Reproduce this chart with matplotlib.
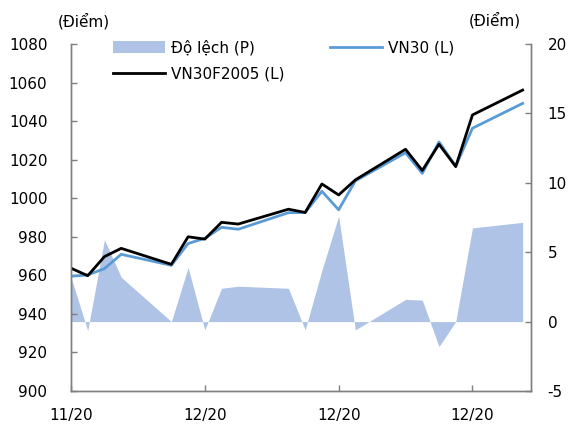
import matplotlib
matplotlib.use("Agg")
import matplotlib.pyplot as plt
import matplotlib.dates as mdates
import pandas as pd
import numpy as np

plt.rcParams['font.family'] = ['DejaVu Sans']
plt.rcParams['axes.unicode_minus'] = False

dates = ["2020-11-24", "2020-11-25", "2020-11-26", "2020-11-27",
         "2020-11-30", "2020-12-01", "2020-12-02", "2020-12-03", "2020-12-04",
         "2020-12-07", "2020-12-08", "2020-12-09", "2020-12-10", "2020-12-11",
         "2020-12-14", "2020-12-15", "2020-12-16", "2020-12-17", "2020-12-18",
         "2020-12-21"]
vn30 = [959.5, 960.2, 963.5, 970.9,
        965.2, 976.5, 979.2, 984.9, 983.9,
        992.5, 992.6, 1003.6, 994.0, 1009.0,
        1023.6, 1012.9, 1029.2, 1016.6, 1036.3,
        1049.2]
vn30f = [963.7, 959.8, 969.7, 974.0,
         965.7, 980.0, 978.8, 987.5, 986.6,
         994.3, 992.6, 1007.4, 1001.7, 1009.5,
         1025.4, 1014.4, 1028.0, 1016.4, 1043.2,
         1056.1]
deviation = [3.2, -0.65, 5.9, 3.2,
             0.0, 3.9, -0.6, 2.4, 2.55,
             2.4, -0.6, 3.7, 7.6, -0.6,
             1.6, 1.55, -1.8, 0.0, 6.75,
             7.15]
tick_dates = ["2020-11-24", "2020-12-02", "2020-12-10", "2020-12-18"]
left_ticks = [900, 920, 940, 960, 980, 1000, 1020, 1040, 1060, 1080]
right_ticks = [-5, 0, 5, 10, 15, 20]

x = pd.to_datetime(dates)
xt = pd.to_datetime(tick_dates)

fig = plt.figure(figsize=(5.72, 4.28), dpi=100)
ax = fig.add_axes([71/572, 1-391/428, (531-71)/572, (391-44)/428])
ax2 = ax.twinx()

area_color = '#aec3e6'
blue = '#5b9bd5'

ax2.fill_between(x, deviation, 0, color=area_color, linewidth=0, label='Độ lệch (P)')
ax2.set_ylim(-5, 20)
ax2.set_yticks(right_ticks)

ax.set_zorder(ax2.get_zorder() + 1)
ax.patch.set_visible(False)
ax.plot(x, vn30, color=blue, lw=2.0, label='VN30 (L)')
ax.plot(x, vn30f, color='black', lw=2.0, label='VN30F2005 (L)')
ax.set_ylim(900, 1080)
ax.set_yticks(left_ticks)

x0 = x[0]
ax.set_xlim(x0, x0 + pd.Timedelta(days=27.5))
ax.set_xticks(xt)
ax.xaxis.set_major_formatter(mdates.DateFormatter('%m/%y'))

for a in (ax, ax2):
    a.spines['top'].set_visible(False)
    for s in ('left', 'right', 'bottom'):
        a.spines[s].set_color('#7f7f7f')
        a.spines[s].set_linewidth(1.0)
    a.tick_params(direction='in', length=4, width=1, color='#7f7f7f', labelsize=11, labelcolor='black')
ax.tick_params(axis='x', pad=12)
ax.tick_params(axis='y', pad=17)
ax2.tick_params(axis='y', pad=12)

fig.text(84/572, 1-21/428, '(Điểm)', ha='center', va='center', fontsize=11)
fig.text(495/572, 1-20/428, '(Điểm)', ha='center', va='center', fontsize=11)

h1, l1 = ax2.get_legend_handles_labels()
h2, l2 = ax.get_legend_handles_labels()
handles = [h1[0], h2[1], h2[0]]
labels = [l1[0], l2[1], l2[0]]
leg = fig.legend(handles, labels, ncol=2, loc='upper left',
                 bbox_to_anchor=(113/572, 1-40/428), frameon=False,
                 fontsize=11, handlelength=3.4, handleheight=0.8,
                 labelspacing=0.75, columnspacing=3.0, handletextpad=0.4,
                 borderpad=0, borderaxespad=0)

fig.savefig('out.png', dpi=100)
